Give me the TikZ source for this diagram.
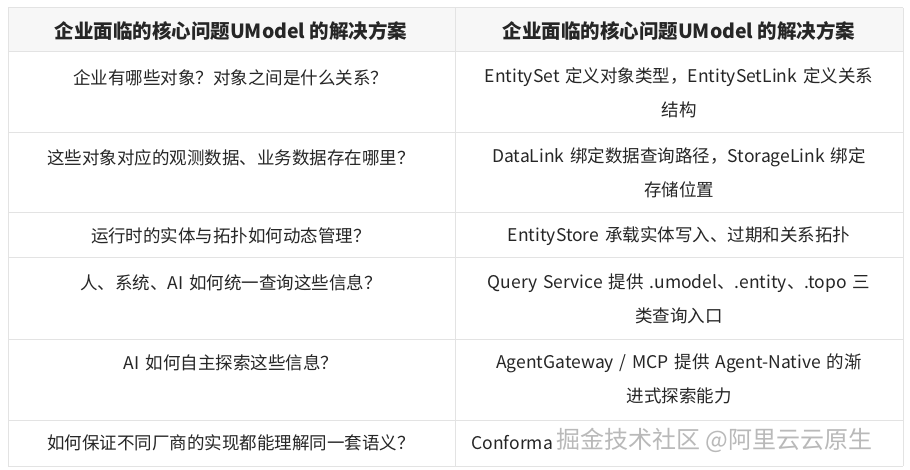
\documentclass[tikz,border=0pt]{standalone}
\usepackage{fontspec}
\setmainfont{Noto Sans CJK SC}
\definecolor{grid}{HTML}{E3E3E3}
\definecolor{head}{HTML}{F7F7F7}
\definecolor{txt}{HTML}{262626}
\begin{document}
\begin{tikzpicture}[x=1pt,y=-1pt,
  cell/.style={text=txt,font=\fontsize{17.5}{34}\selectfont,align=center,text width=440pt},
  hcell/.style={text=txt,font=\fontsize{19.5}{24}\selectfont\bfseries,align=center}]
\useasboundingbox (0,0) rectangle (910,470);
\fill[white] (0,0) rectangle (910,470);
\fill[head] (8,8) rectangle (903,52);
\foreach \y in {8,52,133,213,258,339,420,466} \draw[grid,line width=1pt] (8,\y) -- (903,\y);
\foreach \x in {8,455,903} \draw[grid,line width=1pt] (\x,8) -- (\x,466);
\node[hcell] (h1) at (231,31) {企业面临的核心问题UModel 的解决方案};
\node[hcell] (h2) at (679,31) {企业面临的核心问题UModel 的解决方案};
\node[cell] (a1) at (231,78) {企业有哪些对象？对象之间是什么关系？};
\node[cell] (b1) at (679,93) {EntitySet 定义对象类型，EntitySetLink 定义关系\\结构};
\node[cell] (a2) at (231,158) {这些对象对应的观测数据、业务数据存在哪里？};
\node[cell] (b2) at (679,173) {DataLink 绑定数据查询路径，StorageLink 绑定\\存储位置};
\node[cell] (a3) at (231,236) {运行时的实体与拓扑如何动态管理？};
\node[cell] (b3) at (679,236) {EntityStore 承载实体写入、过期和关系拓扑};
\node[cell] (a4) at (231,283) {人、系统、AI 如何统一查询这些信息？};
\node[cell] (b4) at (679,299) {Query Service 提供 .umodel、.entity、.topo 三\\类查询入口};
\node[cell] (a5) at (231,363) {AI 如何自主探索这些信息？};
\node[cell] (b5) at (679,379) {AgentGateway / MCP 提供 Agent-Native 的渐\\进式探索能力};
\node[cell] (a6) at (231,443) {如何保证不同厂商的实现都能理解同一套语义？};
\node[text=txt,font=\fontsize{17.5}{20}\selectfont,anchor=west] (b6) at (468,443) {Conforma};
\node[text=gray!55,font=\fontsize{24}{28}\selectfont,anchor=west] (wm) at (553,440) {掘金技术社区 @阿里云云原生};
\end{tikzpicture}
\end{document}
